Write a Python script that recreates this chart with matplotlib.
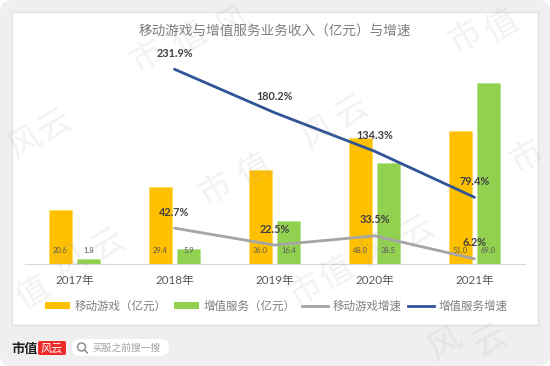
import matplotlib
matplotlib.use("Agg")
import matplotlib.pyplot as plt
from matplotlib.patches import FancyBboxPatch, Circle, Rectangle
from matplotlib.lines import Line2D
from matplotlib.patches import Patch
import numpy as np

plt.rcParams['font.family'] = ['Lato', 'Noto Sans CJK SC', 'DejaVu Sans']

years = ["2017年", "2018年", "2019年", "2020年", "2021年"]
game_rev = [20.6, 29.4, 36.0, 48.0, 51.0]
vas_rev = [1.8, 5.9, 16.4, 38.5, 69.0]
game_growth = [np.nan, 42.7, 22.5, 33.5, 6.2]
vas_growth = [np.nan, 231.9, 180.2, 134.3, 79.4]

title = "移动游戏与增值服务业务收入（亿元）与增速"
legend_names = ["移动游戏（亿元）", "增值服务（亿元）", "移动游戏增速", "增值服务增速"]

ORANGE = "#FFC000"
GREEN = "#92D050"
GREY = "#A5A5A5"
BLUE = "#2F5597"
W, H = 550, 366

fig = plt.figure(figsize=(5.5, 3.66), dpi=100, facecolor="white")

# page background, drawn in pixel coordinates
bg = fig.add_axes([0, 0, 1, 1], zorder=0)
bg.set_xlim(0, W)
bg.set_ylim(H, 0)
bg.axis("off")
bg.add_patch(FancyBboxPatch((6, 6), W - 12, H - 12, boxstyle="round,pad=6,rounding_size=12",
                            fc="#EFEFEF", ec="none"))
bg.add_patch(Rectangle((11.5, 11.5), 526.5, 313.5, fc="white", ec="#E2E2E2", lw=1))

# main chart
ax = fig.add_axes([24.5 / W, (H - 264) / H, 500 / W, 224 / H], zorder=1)
ax.patch.set_alpha(0)
x = np.arange(len(years))
ax.bar(x - 0.14, game_rev, 0.225, color=ORANGE, edgecolor="#FFD75A", lw=0.5)
ax.bar(x + 0.14, vas_rev, 0.225, color=GREEN, edgecolor="#B5E28A", lw=0.5)
ax.set_xlim(-0.5, 4.5)
ax.set_ylim(0, 85.6)
ax.set_yticks([])
ax.set_xticks(x)
ax.set_xticklabels(years, fontsize=8.4, color="#595959")
ax.tick_params(axis="x", length=0, pad=8)
for s in ["top", "left", "right"]:
    ax.spines[s].set_visible(False)
ax.spines["bottom"].set_color("#D9D9D9")

for i in range(len(years)):
    ax.annotate(f"{game_rev[i]:.1f}", (x[i] - 0.14, 0), xytext=(0, 7), textcoords="offset points",
                ha="center", va="bottom", fontsize=5.5, color="#595959", zorder=5)
    ax.annotate(f"{vas_rev[i]:.1f}", (x[i] + 0.14, 0), xytext=(0, 7), textcoords="offset points",
                ha="center", va="bottom", fontsize=5.5, color="#595959", zorder=5)

# growth lines on their own scale
ax2 = ax.twinx()
ax2.patch.set_alpha(0)
ax2.set_ylim(0, 266.7)
ax2.set_yticks([])
for s in ax2.spines.values():
    s.set_visible(False)
ax2.plot(x, game_growth, color=GREY, lw=2, solid_capstyle="round")
ax2.plot(x, vas_growth, color=BLUE, lw=2, solid_capstyle="round")
for series in (game_growth, vas_growth):
    for i, v in enumerate(series):
        if not np.isnan(v):
            ax2.annotate(f"{v:.1f}%", (x[i], v), xytext=(0, 11.5), textcoords="offset points",
                         ha="center", va="center", fontsize=7.8, fontweight="bold", color="#404040")

fig.text(275 / W, 1 - 30 / H, title, ha="center", va="center", fontsize=9.8, color="#7F7F7F")

handles = [
    Patch(fc=ORANGE),
    Patch(fc=GREEN),
    Line2D([0], [0], color=GREY, lw=2),
    Line2D([0], [0], color=BLUE, lw=2),
]
fig.legend(handles, legend_names, ncol=4, loc="center", bbox_to_anchor=(276 / W, 1 - 306 / H),
           frameon=False, fontsize=8.3, labelcolor="#7F7F7F", handlelength=2.2, handleheight=0.5,
           handletextpad=0.4, columnspacing=0.6, borderpad=0)

# footer logo and search box
bg.text(11, 348, "市值", fontsize=9.5, fontweight="bold", color="#222222", va="center", ha="left")
bg.add_patch(FancyBboxPatch((39, 342), 26, 12, boxstyle="round,pad=1,rounding_size=2", fc="#EE2A2A", ec="none"))
bg.text(52, 348, "风云", fontsize=8, color="white", va="center", ha="center", style="italic")
bg.add_patch(FancyBboxPatch((73, 340), 95, 15, boxstyle="round,pad=1,rounding_size=8", fc="white", ec="none"))
bg.add_patch(Circle((81.5, 347), 4, fc="none", ec="#888888", lw=1))
bg.plot([84.5, 87.5], [350, 353], color="#888888", lw=1)
bg.text(92, 348, "买股之前搜一搜", fontsize=7, color="#A0A0A0", va="center", ha="left")

# watermark on top of everything
wm = fig.add_axes([0, 0, 1, 1], zorder=5)
wm.set_xlim(0, W)
wm.set_ylim(H, 0)
wm.axis("off")
wm.patch.set_alpha(0)
marks = [("市", 147, 57), ("值", 190, 38), ("风", 233, 24),
         ("风", 25, 143), ("云", 55, 127),
         ("市", 215, 190), ("值", 255, 170), ("风", 318, 133), ("云", 352, 113),
         ("市", 465, 37), ("值", 502, 26),
         ("值", 33, 293), ("风", 70, 262), ("云", 108, 246),
         ("市", 305, 290), ("值", 337, 273), ("风", 376, 250), ("云", 418, 233),
         ("市", 526, 157),
         ("风", 445, 344), ("云", 490, 342)]
for ch, mx, my in marks:
    wm.text(mx, my, ch, fontsize=24, rotation=30, color="#999999", alpha=0.13,
            ha="center", va="center")

fig.savefig("out.png", dpi=100)
